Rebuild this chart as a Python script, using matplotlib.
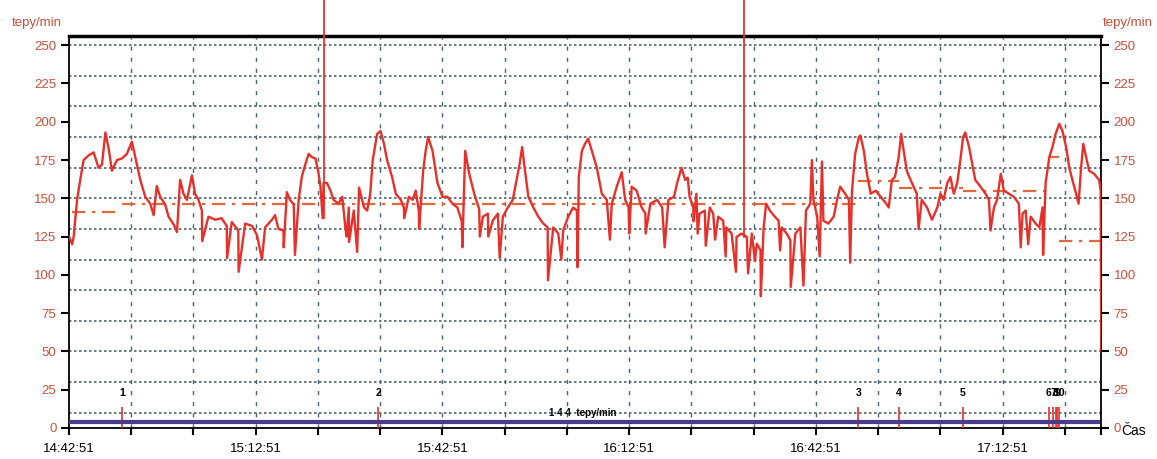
import numpy as np
import matplotlib as mpl

mpl.use('Agg')
import matplotlib.pyplot as plt

# time axis is minutes after 14:42:51
t_min = [0.0, 0.5, 0.75, 1.3, 1.8, 2.35, 3.15, 3.95, 4.75, 5.3, 5.85, 6.35, 6.9, 7.7, 8.5, 9.3,
         10.1, 10.65, 11.45, 12.25, 13.05, 13.6, 14.1, 14.65, 15.45, 16.0, 16.8, 17.35, 17.85, 18.4,
         18.95, 19.75, 20.25, 20.8, 21.35, 22.4, 23.5, 24.5, 25.35, 26.15, 27.2, 28.3, 29.4, 30.2,
         31.5, 32.6, 33.1, 33.65, 34.45, 35.0, 35.5, 36.1, 36.9, 37.4, 37.95, 38.5, 39.0, 39.6,
         40.1, 40.4, 40.9, 41.45, 42.0, 42.5, 43.3, 43.9, 44.4, 44.95, 45.75, 46.6, 47.4, 47.9,
         48.4, 48.8, 49.5, 50.05, 50.6, 51.1, 51.9, 52.5, 53.3, 53.8, 54.6, 55.2, 55.7, 56.2, 56.9,
         57.3, 57.7, 58.4, 59.2, 60.0, 60.8, 61.6, 62.4, 63.1, 63.65, 64.3, 65.1, 65.9, 66.5, 67.3,
         68.1, 68.9, 69.7, 70.5, 71.3, 71.9, 72.4, 72.8, 73.2, 73.8, 74.6, 75.4, 76.2, 76.9, 77.8,
         78.6, 79.4, 80.2, 81.0, 81.6, 81.9, 82.4, 82.9, 83.4, 84.0, 84.8, 85.6, 86.4, 87.2, 88.0,
         88.8, 89.35, 89.9, 90.4, 91.2, 92.0, 92.6, 93.4, 94.5, 95.3, 96.3, 97.2, 97.7, 98.4, 99.0,
         99.4, 99.7, 100.3, 100.8, 101.3, 102.15, 102.95, 103.5, 104.3, 105.1, 105.6, 106.45,
         107.25, 108.06, 108.9, 109.7, 110.5, 111.1, 111.6, 112.0, 112.6, 113.4, 114.0, 114.5,
         115.3, 115.9, 116.7, 117.5, 118.4, 119.1, 119.6, 120.2, 121.2, 122.0, 122.85, 123.4,
         123.9, 124.7, 125.3, 125.8, 126.3, 126.9, 127.15, 127.7, 128.2, 128.8, 129.6, 130.4,
         131.2, 131.7, 132.2, 132.7, 133.3, 133.7, 134.1, 134.6, 135.2, 135.7, 136.2, 137.0,
         137.85, 138.65, 139.5, 140.0, 140.5, 141.1, 141.6, 142.15, 142.7, 143.2, 143.65, 144.0,
         144.6, 145.1, 145.6, 146.45, 147.25, 147.8, 148.6, 149.1, 149.7, 150.2, 151.0, 151.8,
         152.6, 153.2, 153.7, 154.5, 155.3, 155.9, 156.4, 156.9, 157.5, 158.0, 158.5, 159.1,
         159.6, 160.2, 160.7, 161.2, 161.8, 162.2, 162.6, 162.95, 163.4, 163.9, 164.7, 165.5,
         165.75, 165.85]
hr = [125, 120, 125, 149, 162, 175, 178, 180, 170, 172, 193, 183, 168, 175, 176, 179,
      187, 177, 162, 151, 146.5, 139, 158, 151, 146, 138, 133, 128, 162, 153,
      149, 165, 153, 149, 142, 138, 136, 137, 132, 134.5, 129, 133.5, 132, 126,
      131, 136, 139, 130, 129, 154, 149, 146, 149, 164, 172, 179, 177, 176,
      166, 157.6, 160, 160, 155, 149, 146.5, 151, 131, 144, 142, 157, 144, 142,
      153, 175, 192, 194, 185.6, 175, 164, 153, 149, 144, 151, 149, 155, 142, 168,
      181, 190, 181, 160, 151, 151, 146.5, 144, 135, 181, 166, 153, 143, 138, 140,
      135.6, 140, 138, 144, 149, 162, 172.6, 183.5, 170, 151, 144, 138, 133.5, 131, 131,
      127, 129, 138, 144, 142, 164, 181, 185.6, 189, 181, 170, 153, 149, 146.5, 157.6,
      167, 149, 144, 157.6, 155, 144, 140, 146.5, 149, 144, 149, 151, 160, 170, 162,
      163.5, 151, 144, 153, 140, 142, 144, 140, 138, 135.4, 131, 127,
      124.8, 127, 124.8, 127, 120.4, 116, 131, 146.5, 142, 138, 135.4, 131,
      127, 122.6, 127, 131, 142, 146.5, 149, 138, 135.4, 133.5, 138, 149,
      157.6, 153, 149, 155, 179, 190, 191, 181, 166, 153, 155, 151,
      147, 144, 162, 164, 177, 192, 181, 168, 162, 157.6, 153, 149,
      144, 136, 144, 153, 149, 160, 164, 153, 160, 175, 190, 193,
      183.5, 172.6, 162, 157.6, 153, 149, 144, 149, 166, 155, 153, 151,
      146.5, 140, 142, 138, 133.5, 131, 144, 160, 177, 183.5, 192, 198.7,
      194, 183.5, 170, 162, 153, 146.5, 170, 185.6, 177, 168, 166, 162,
      155, 50]

# short dips / jumps in the trace
spike_t = [21.4, 25.4, 27.25, 31.0, 34.5, 36.3, 40.75, 44.6, 45.0, 46.3, 53.85, 56.25, 63.2,
           66.0, 67.35, 69.2, 76.95, 79.1, 81.7, 86.9, 90.0, 92.65, 95.7, 100.35, 101.0, 102.3,
           103.8, 105.5, 107.15, 109.1, 110.2, 111.15, 114.25, 115.95, 118.0, 119.35, 120.6,
           120.97, 125.5, 136.5, 148.05, 152.9, 154.1, 156.5]
spike_hr = [122, 111, 102, 110, 118, 113, 137, 125, 121.5, 115, 137, 130, 118,
            125, 125, 111, 96.5, 110, 105, 123, 127, 127, 118, 135, 127, 119,
            123, 112, 102, 101, 109, 86, 116, 92, 93, 175, 112,
            174, 108, 130, 129, 118, 120, 113]

tall_t = [40.9, 108.4]
tall_lo = [137, 125]

avg_start = [0.5, 8.5, 126.8, 133.3, 143.6, 157.4, 159.0]
avg_end = [8.5, 126.8, 133.3, 143.6, 157.4, 159.0, 165.8]
avg_hr = [141, 146, 161, 157, 154.5, 177, 122]

event_t = [8.5, 49.7, 126.8, 133.3, 143.6, 157.4, 158.1, 158.5, 158.8, 159.0]
event_lbl = ['1', '2', '3', '4', '5', '6', '7', '8', '9', '10']

time_labels = ['14:42:51', '15:12:51', '15:42:51', '16:12:51', '16:42:51', '17:12:51']
baseline_hr = 4
x_end = 165.8

RED = '#e8302a'
AVG = '#e0683f'
LBL = '#c8503a'
GRID = '#4a6470'

plt.rcParams['font.family'] = ['Liberation Sans', 'DejaVu Sans']

fig = plt.figure(figsize=(11.57, 4.59), dpi=100)
ax = fig.add_axes([69 / 1157, 31 / 459, 1032 / 1157, 392 / 459])

# grid
for g in range(10, 251, 20):
    ax.axhline(g, color=GRID, lw=1.2, ls=(0, (1.5, 1.5)), zorder=1)
for g in range(10, 161, 10):
    ax.axvline(g, color=GRID, lw=1.0, ls=(0, (3, 5)), zorder=1)

# heart rate trace
t_all = np.concatenate([t_min, spike_t])
hr_all = np.concatenate([hr, spike_hr])
order = np.argsort(t_all, kind='stable')
ax.plot(t_all[order], hr_all[order], color=RED, lw=1.7, zorder=3)
for t, lo in zip(tall_t, tall_lo):
    ax.plot([t, t], [lo, 285], color=RED, lw=1.3, clip_on=False, zorder=3)

# segment averages
for a, b, v in zip(avg_start, avg_end, avg_hr):
    ax.plot([a, b], [v, v], color=AVG, lw=1.6, ls=(0, (6, 3, 1.5, 3)), zorder=2)

# events
ax.vlines(event_t, 0, 14, color=RED, lw=1.2, zorder=3)
for t, s in zip(event_t, event_lbl):
    ax.text(t, 23, s, fontsize=7.5, fontweight='bold', ha='center', va='center', zorder=4)
ax.plot([0, x_end - 0.5], [baseline_hr, baseline_hr], color='#4b3b8f', lw=3, zorder=4)
ax.text(82.6, 10, '1 4 4  tepy/min', fontsize=7, fontweight='bold', ha='center', va='center', zorder=4)

ax.set_xlim(0, x_end)
ax.set_ylim(0, 256)

xt = list(range(0, 161, 10)) + [x_end]
ax.set_xticks(xt)
xl = [''] * len(xt)
for i, s in enumerate(time_labels):
    xl[i * 3] = s
ax.set_xticklabels(xl, fontsize=9.5)
ax.set_yticks(range(0, 251, 25))
ax.tick_params(axis='x', direction='out', length=5, width=1.5, pad=6)
ax.tick_params(axis='y', direction='out', length=6, width=1.5, right=True,
               labelright=True, labelcolor=LBL, labelsize=9.5, pad=3)

for side in ['left', 'right', 'bottom']:
    ax.spines[side].set_linewidth(1.3)
ax.spines['top'].set_linewidth(2.5)

fig.text(37 / 1157, 1 - 23 / 459, 'tepy/min', color=LBL, fontsize=9.5, ha='center', va='center')
fig.text(1128 / 1157, 1 - 23 / 459, 'tepy/min', color=LBL, fontsize=9.5, ha='center', va='center')
fig.text(1134 / 1157, 1 - 431 / 459, 'Čas', fontsize=10, ha='center', va='center')

fig.savefig('out.png', dpi=100)
